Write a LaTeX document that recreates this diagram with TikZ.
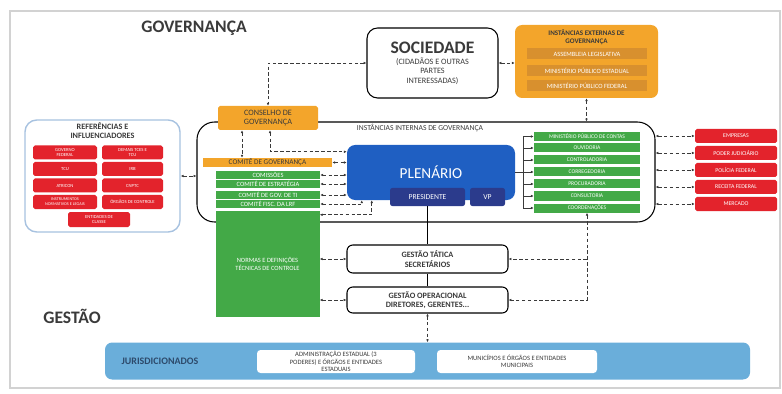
\documentclass[tikz,border=0pt]{standalone}
\usepackage{fontspec}
\setmainfont{Carlito}
\usepackage{tikz}
\usetikzlibrary{arrows.meta}
\usetikzlibrary{arrows, positioning}

\definecolor{vermelho}{HTML}{E3232C}
\definecolor{verde}{HTML}{43A947}
\definecolor{laranja}{HTML}{F3A52B}
\definecolor{laranjaesc}{HTML}{D8902E}
\definecolor{azulplen}{HTML}{1F5FC2}
\definecolor{azulesc}{HTML}{2B3B8C}
\definecolor{azuljur}{HTML}{6AAEDA}
\definecolor{azulborda}{HTML}{A7C2E0}
\definecolor{cinza}{HTML}{3A3A3A}
\definecolor{azultxt}{HTML}{2D4A6B}

\tikzset{sz/.style 2 args={minimum width=#1*0.3mm, minimum height=#2*0.3mm}}

\begin{document}
\begin{tikzpicture}[x=0.3mm, y=-0.3mm]
	\tikzstyle{every node}=[inner sep=0pt, align=center]
	\tikzstyle{titulo}=[font=\fontsize{15}{15}\selectfont\bfseries, text=cinza]
	\tikzstyle{inst}=[draw, line width=0.9pt, rounded corners=5pt, fill=white, text=cinza]
	\tikzstyle{verm}=[fill=vermelho, rounded corners=1.5pt, text=white]
	\tikzstyle{verd}=[fill=verde, text=white]
	\tikzstyle{extbar}=[fill=laranjaesc, sz={120}{11}, text=white, font=\fontsize{5.5}{6}\selectfont]
	\tikzstyle{link}=[densely dashed, line width=0.6pt, draw=cinza, {Latex[length=2.4pt,width=2.2pt]}-{Latex[length=2.4pt,width=2.2pt]}]
	\tikzstyle{oneway}=[densely dashed, line width=0.6pt, draw=cinza, -{Latex[length=2.4pt,width=2.2pt]}]
	\tikzstyle{seta}=[line width=0.6pt, draw=cinza, -{Latex[length=2.4pt,width=2.2pt]}]
	\useasboundingbox (0,0) rectangle (782,394);
	\draw[gray!35, line width=1pt] (10,11) rectangle (780,388);

	% titulos
	\node[titulo] (tgov) at (194,28) {GOVERNANÇA};
	\node[titulo] (tgest) at (72,316) {GESTÃO};

	% sociedade e instancias externas
	\node[inst, rounded corners=9pt, sz={131}{70}, font=\fontsize{7}{7.8}\selectfont] (soc) at (432.5,63)
		{{\fontsize{15}{16}\selectfont\bfseries SOCIEDADE}\\[2pt]
		 (CIDADÃOS E OUTRAS\\PARTES\\INTERESSADAS)};
	\node[fill=laranja, rounded corners=6pt, sz={143}{73}] (ext) at (586.5,61.5) {};
	\node[font=\fontsize{6}{6.6}\selectfont\bfseries, text=cinza] (exttit) at (586.5,37) {INSTÂNCIAS EXTERNAS DE\\GOVERNANÇA};
	\node[extbar] (alesp) at (587,54) {ASSEMBLEIA LEGISLATIVA};
	\node[extbar] (mpe) at (587,70.5) {MINISTÉRIO PÚBLICO ESTADUAL};
	\node[extbar] (mpf) at (587,86) {MINISTÉRIO PÚBLICO FEDERAL};

	% instancias internas
	\node[draw, line width=0.9pt, rounded corners=15pt, sz={458}{100}] (int) at (426,172) {};
	\node[font=\fontsize{6.5}{6.5}\selectfont, text=cinza] (inttit) at (420,128) {INSTÂNCIAS INTERNAS DE GOVERNANÇA};
	\node[fill=laranja, rounded corners=1.5pt, sz={100}{24}, font=\fontsize{7}{7.8}\selectfont, text=cinza] (cons) at (268,118) {CONSELHO DE\\GOVERNANÇA};

	% referencias
	\node[draw=azulborda, line width=1.2pt, rounded corners=10pt, fill=white, sz={155}{112}] (ref) at (102.5,176) {};
	\node[font=\fontsize{7}{7.8}\selectfont\bfseries, text=cinza] (reftit) at (102.5,131) {REFERÊNCIAS E\\INFLUENCIADORES};
	\node[verm, sz={64}{14}, font=\fontsize{4}{4.6}\selectfont] (gfed) at (65,152.5) {GOVERNO\\FEDERAL};
	\node[verm, sz={61}{14}, font=\fontsize{4}{4.6}\selectfont] (tces) at (132.5,152.5) {DEMAIS TCES E\\TCU};
	\node[verm, sz={64}{14}, font=\fontsize{4}{4.6}\selectfont] (tcu) at (65,169) {TCU};
	\node[verm, sz={61}{14}, font=\fontsize{4}{4.6}\selectfont] (irb) at (132.5,169) {IRB};
	\node[verm, sz={64}{14}, font=\fontsize{4}{4.6}\selectfont] (atricon) at (65,185.5) {ATRICON};
	\node[verm, sz={61}{14}, font=\fontsize{4}{4.6}\selectfont] (cnptc) at (132.5,185.5) {CNPTC};
	\node[verm, sz={64}{14}, font=\fontsize{3.6}{4.2}\selectfont] (instr) at (65,202) {INSTRUMENTOS\\NORMATIVOS E LEGAIS};
	\node[verm, sz={61}{14}, font=\fontsize{4}{4.6}\selectfont] (orgc) at (132.5,202) {ÓRGÃOS DE CONTROLE};
	\node[verm, sz={62}{15}, font=\fontsize{4}{4.6}\selectfont] (entc) at (99,219.5) {ENTIDADES DE\\CLASSE};

	% comites
	\node[fill=laranja, sz={129}{9}, font=\fontsize{6.2}{6.2}\selectfont, text=cinza] (comgov) at (267.5,162.5) {COMITÊ DE GOVERNANÇA};
	\node[verd, sz={104}{8}, font=\fontsize{5.5}{5.5}\selectfont] (comis) at (268,175) {COMISSÕES};
	\node[verd, sz={104}{8}, font=\fontsize{5.5}{5.5}\selectfont] (comest) at (268,184) {COMITÊ DE ESTRATÉGIA};
	\node[verd, sz={104}{8}, font=\fontsize{5.5}{5.5}\selectfont] (comti) at (268,195) {COMITÊ DE GOV. DE TI};
	\node[verd, sz={104}{8}, font=\fontsize{5.5}{5.5}\selectfont] (comfis) at (268,204) {COMITÊ FISC. DA LRF};
	\node[verd, sz={104}{106}, font=\fontsize{5.5}{6.6}\selectfont] (normas) at (267.5,264) {NORMAS E DEFINIÇÕES\\TÉCNICAS DE CONTROLE};

	% plenario
	\node[fill=azulplen, rounded corners=7pt, sz={168}{55}, text=white, font=\fontsize{13}{13}\selectfont] (plen) at (431,172.5) {PLENÁRIO};
	\node[fill=azulesc, rounded corners=2pt, sz={75}{18}, text=white, font=\fontsize{6.5}{6.5}\selectfont] (pres) at (427.5,197) {PRESIDENTE};
	\node[fill=azulesc, rounded corners=2pt, sz={35}{18}, text=white, font=\fontsize{6.5}{6.5}\selectfont] (vp) at (487.5,197) {VP};

	% orgaos internos
	\node[verd, sz={106}{9}, font=\fontsize{4.8}{4.8}\selectfont] (mpc) at (587,136.5) {MINISTÉRIO PÚBLICO DE CONTAS};
	\node[verd, sz={106}{9}, font=\fontsize{4.8}{4.8}\selectfont] (ouv) at (587,148) {OUVIDORIA};
	\node[verd, sz={106}{9}, font=\fontsize{4.8}{4.8}\selectfont] (contr) at (587,160) {CONTROLADORIA};
	\node[verd, sz={106}{9}, font=\fontsize{4.8}{4.8}\selectfont] (correg) at (587,172) {CORREGEDORIA};
	\node[verd, sz={106}{9}, font=\fontsize{4.8}{4.8}\selectfont] (proc) at (587,184) {PROCURADORIA};
	\node[verd, sz={106}{9}, font=\fontsize{4.8}{4.8}\selectfont] (consult) at (587,196) {CONSULTORIA};
	\node[verd, sz={106}{9}, font=\fontsize{4.8}{4.8}\selectfont] (coord) at (587,208) {COORDENAÇÕES};

	% atores externos
	\node[verm, sz={82}{14}, font=\fontsize{5}{5}\selectfont] (emp) at (736,136) {EMPRESAS};
	\node[verm, sz={82}{14}, font=\fontsize{5}{5}\selectfont] (jud) at (736,153) {PODER JUDICIÁRIO};
	\node[verm, sz={82}{14}, font=\fontsize{5}{5}\selectfont] (pf) at (736,170) {POLÍCIA FEDERAL};
	\node[verm, sz={82}{14}, font=\fontsize{5}{5}\selectfont] (rf) at (736,187) {RECEITA FEDERAL};
	\node[verm, sz={82}{14}, font=\fontsize{5}{5}\selectfont] (merc) at (736,204) {MERCADO};

	% gestao
	\node[inst, sz={161}{28}, font=\fontsize{7}{8}\selectfont\bfseries] (gt) at (427.5,259) {GESTÃO TÁTICA\\SECRETÁRIOS};
	\node[inst, sz={161}{26}, font=\fontsize{7}{8}\selectfont\bfseries] (gop) at (427.5,300) {GESTÃO OPERACIONAL\\DIRETORES, GERENTES...};

	% jurisdicionados
	\node[fill=azuljur, rounded corners=6pt, sz={645}{37}] (jur) at (427.5,361) {};
	\node[font=\fontsize{8.5}{8.5}\selectfont\bfseries, text=azultxt] (jurtit) at (160,361) {JURISDICIONADOS};
	\node[fill=white, rounded corners=3pt, sz={158}{23}, font=\fontsize{5.6}{6.2}\selectfont, text=cinza] (adm) at (336,361.5) {ADMINISTRAÇÃO ESTADUAL (3\\PODERES) E ÓRGÃOS E ENTIDADES\\ESTADUAIS};
	\node[fill=white, rounded corners=3pt, sz={160}{23}, font=\fontsize{5.6}{6.2}\selectfont, text=cinza] (mun) at (517,361.5) {MUNICÍPIOS E ÓRGÃOS E ENTIDADES\\MUNICIPAIS};

	% conexoes
	\draw[link] (soc.west) -| (cons.north);
	\draw[link] (soc.east) -- (soc.east -| ext.west);
	\draw[link] (ext.south) -- (ext.south |- int.north);
	\draw[link] (ref.east) -- (ref.east -| int.west);
	\draw[link] ([xshift=-7.8mm]cons.south) -- ([xshift=-7.8mm]cons.south |- comgov.north);
	\draw[link] ([xshift=0.6mm]cons.south) |- ([yshift=-2.1mm]plen.north west);
	\draw[link] (comgov.east) -- (comgov.east -| plen.west);
	\draw[link] (comis.east) -- (comis.east -| plen.west);
	\draw[link] (comest.east) -- (comest.east -| plen.west);
	\draw[link] (comti.east) -- (comti.east -| plen.west);
	\draw[link] (comfis.east) -| ([xshift=4.5mm]plen.south west);
	\draw[link] ([yshift=-1.2mm]normas.north east) -| ([xshift=7.5mm]plen.south west);
	\draw[link] (normas.east |- gt.west) -- (gt.west);
	\draw[link] (normas.east |- gop.west) -- (gop.west);
	\draw[link] (coord.south) |- (gop.east);
	\draw[oneway] (coord.south |- gt.east) -- (gt.east);
	\draw[link] (gop.south) -- (gop.south |- jur.north);
	\draw[line width=0.8pt] (pres.south) -- (gt.north);
	\draw[line width=0.8pt] (gt.south) -- (gop.north);

	% chave dos orgaos internos
	\coordinate (chave) at (523,172.5);
	\draw[line width=0.6pt, cinza] (plen.east) -- (chave);
	\draw[line width=0.6pt, cinza] (mpc.west -| chave) -- (coord.west -| chave);
	\draw[seta] (mpc.west -| chave) -- (mpc.west);
	\draw[seta] (ouv.west -| chave) -- (ouv.west);
	\draw[seta] (contr.west -| chave) -- (contr.west);
	\draw[seta] (correg.west -| chave) -- (correg.west);
	\draw[seta] (proc.west -| chave) -- (proc.west);
	\draw[seta] (consult.west -| chave) -- (consult.west);
	\draw[seta] (coord.west -| chave) -- (coord.west);

	% atores externos
	\draw[link] (emp.west -| int.east) -- (emp.west);
	\draw[link] (jud.west -| int.east) -- (jud.west);
	\draw[link] (pf.west -| int.east) -- (pf.west);
	\draw[link] (rf.west -| int.east) -- (rf.west);
	\draw[link] (merc.west -| int.east) -- (merc.west);
\end{tikzpicture}
\end{document}
